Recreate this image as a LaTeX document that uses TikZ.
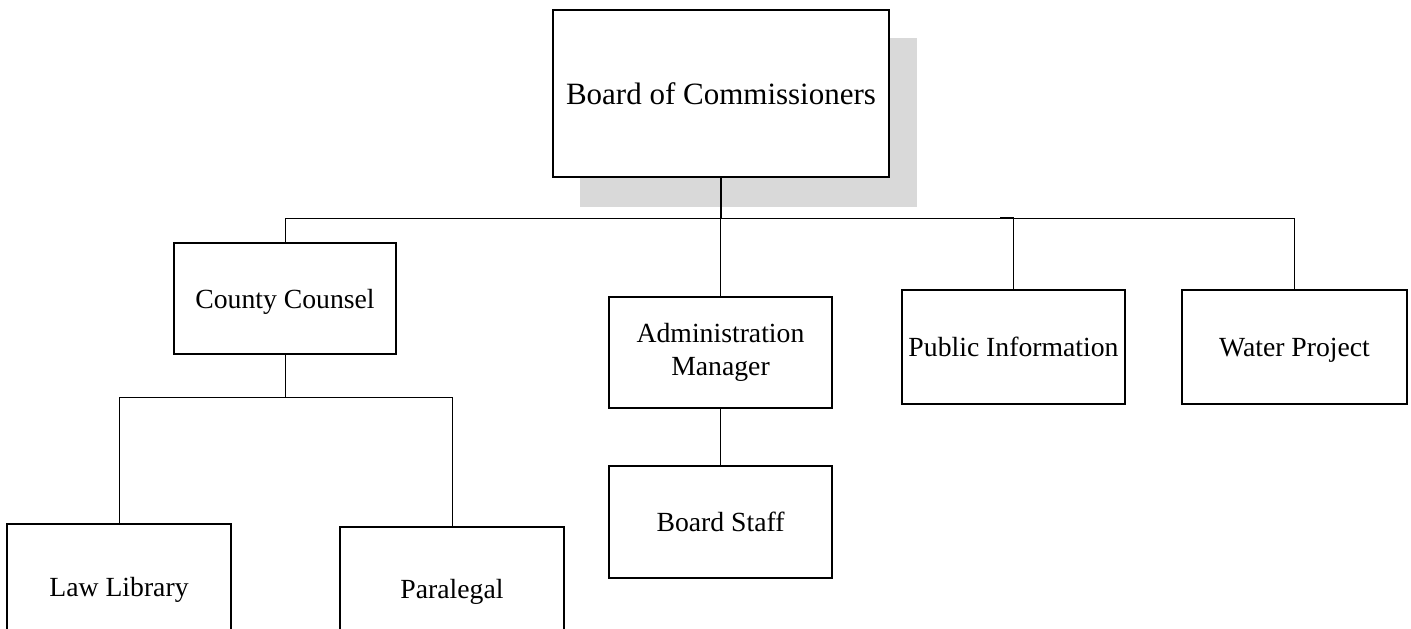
\documentclass[tikz,border=0pt]{standalone}
\usepackage{fontspec}
\setmainfont{Liberation Serif}
\definecolor{shadowgray}{RGB}{217,217,217}
\begin{document}
\begin{tikzpicture}[x=1pt,y=-1pt,
  box/.style={draw=black,line width=1.5pt,fill=white,inner sep=0pt,align=center,
    font=\fontsize{27.7}{33}\selectfont},
  oneline/.style={text depth=0pt},
  conn/.style={draw=black,line width=1pt},
  stem/.style={draw=black,line width=2pt}]
\useasboundingbox (0,0) rectangle (1411,629);
\clip (0,0) rectangle (1411,629);
% shadow
\fill[shadowgray] (580,38) rectangle (917,207);
% nodes
\node[box,oneline,minimum width=336pt,minimum height=167pt,font=\fontsize{31}{37}\selectfont] (board) at (721,93.5) {Board of Commissioners};
\node[box,oneline,minimum width=222pt,minimum height=111pt] (county) at (285,298.5) {County Counsel};
\node[box,minimum width=223pt,minimum height=111pt] (admin) at (720.5,352.5) {Administration\\Manager};
\node[box,oneline,minimum width=223pt,minimum height=112pt] (staff) at (720.5,522) {Board Staff};
\node[box,oneline,minimum width=223pt,minimum height=114pt] (public) at (1013.5,347) {Public Information};
\node[box,oneline,minimum width=225pt,minimum height=114pt] (water) at (1294.5,347) {Water Project};
\node[box,oneline,minimum width=224pt,minimum height=126pt] (law) at (119,587) {Law Library};
\node[box,oneline,minimum width=224pt,minimum height=124pt] (para) at (452,589) {Paralegal};
% bus coordinates
\coordinate (bus) at (0,218);
\coordinate (lbus) at (0,397);
\coordinate (tick) at (1000,218);
% connectors
\draw[conn] (county.north) -- (county.north |- bus) -- (water.north |- bus) -- (water.north);
\draw[conn] (public.north |- bus) -- (public.north);
\draw[stem] (tick) -- (public.north |- bus);
\draw[conn] (admin.north |- bus) -- (admin.north);
\draw[stem] (board.south) -- (board.south |- bus);
\draw[conn] (county.south) -- (county.south |- lbus);
\draw[conn] (law.north) -- (law.north |- lbus) -- (para.north |- lbus) -- (para.north);
\draw[conn] (admin.south) -- (staff.north);
\end{tikzpicture}
\end{document}
